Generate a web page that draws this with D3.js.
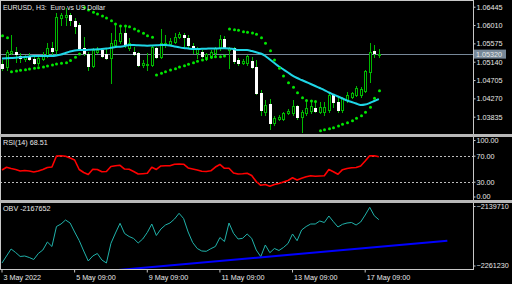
<!DOCTYPE html>
<html>
<head>
<meta charset="utf-8">
<script src="https://cdn.jsdelivr.net/npm/d3@7"></script>
<style>
html, body { margin: 0; padding: 0; background: #000; }
svg { display: block; }
text { font-family: "Liberation Sans", Arial, sans-serif; font-size: 7.2px; fill: #e8e8e8; white-space: pre; }
</style>
</head>
<body>
<svg id="chart" width="512" height="284"></svg>
<script>
// EURUSD H3 bars, 3 May 09:00 .. 17 May
var openP = [1.05085,1.05014,1.05346,1.05370,1.05275,1.05204,1.05251,1.05204,1.05109,1.05204,
	1.05299,1.05465,1.05417,1.06177,1.06201,1.06248,1.06106,1.06011,1.05465,1.05323,
	1.05038,1.05370,1.05417,1.05323,1.05228,1.05536,1.05631,1.05821,1.05465,1.05370,
	1.05346,1.05062,1.05062,1.05062,1.05465,1.05251,1.05536,1.05560,1.05607,1.05726,
	1.05773,1.05702,1.05512,1.05346,1.05370,1.05251,1.05251,1.05346,1.05465,1.05679,
	1.05417,1.05465,1.05180,1.05109,1.05109,1.05156,1.05014,1.04397,1.03946,1.04136,
	1.03685,1.03780,1.03780,1.03923,1.03923,1.04089,1.03828,1.03923,1.03970,1.04041,
	1.03946,1.03946,1.03994,1.04350,1.04184,1.03994,1.04231,1.04302,1.04350,1.04350,
	1.04445,1.04895,1.05394,1.05299];
var highP = [1.05180,1.05417,1.05773,1.05489,1.05346,1.05299,1.05346,1.05275,1.05299,1.05370,
	1.05584,1.05607,1.06296,1.06296,1.06414,1.06296,1.06177,1.06058,1.05726,1.05370,
	1.05465,1.05489,1.05465,1.05465,1.05821,1.06058,1.06011,1.05963,1.05702,1.05489,
	1.05370,1.05180,1.05346,1.05536,1.05489,1.05916,1.05773,1.05702,1.05821,1.05845,
	1.05821,1.05773,1.05584,1.05489,1.05417,1.05346,1.05417,1.05489,1.05773,1.05750,
	1.05489,1.05489,1.05228,1.05204,1.05299,1.05251,1.05180,1.04468,1.04231,1.04255,
	1.03851,1.03875,1.03946,1.04017,1.04231,1.04112,1.03994,1.04231,1.04184,1.04184,
	1.04184,1.04184,1.04397,1.04373,1.04302,1.04302,1.04421,1.04421,1.04563,1.04539,
	1.04943,1.05584,1.05536,1.05441];
var lowP = [1.04943,1.04943,1.05323,1.05133,1.05133,1.05156,1.05180,1.05085,1.05062,1.05180,
	1.05251,1.05299,1.05299,1.06011,1.06011,1.06011,1.05821,1.05417,1.05299,1.04943,
	1.05014,1.05346,1.05251,1.05204,1.04634,1.05489,1.05584,1.05489,1.05417,1.05299,
	1.05038,1.05014,1.04943,1.05038,1.05228,1.05228,1.05489,1.05536,1.05584,1.05702,
	1.05489,1.05489,1.05346,1.05228,1.05251,1.05180,1.05228,1.05299,1.05417,1.05465,
	1.04990,1.05109,1.05062,1.05085,1.05062,1.04990,1.04373,1.03875,1.03875,1.03543,
	1.03638,1.03756,1.03756,1.03899,1.03875,1.03780,1.03472,1.03875,1.03923,1.03946,
	1.03923,1.03875,1.03946,1.04065,1.03946,1.03946,1.04184,1.04278,1.04326,1.04302,
	1.04421,1.04658,1.05251,1.05251];
var closeP = [1.04990,1.05370,1.05394,1.05323,1.05228,1.05251,1.05204,1.05109,1.05228,1.05299,
	1.05465,1.05394,1.06201,1.06248,1.06248,1.06129,1.05987,1.05465,1.05346,1.05038,
	1.05417,1.05417,1.05275,1.05228,1.05584,1.05655,1.05821,1.05536,1.05584,1.05323,
	1.05062,1.05109,1.05085,1.05489,1.05251,1.05584,1.05584,1.05631,1.05726,1.05797,
	1.05726,1.05536,1.05441,1.05441,1.05275,1.05323,1.05370,1.05465,1.05679,1.05489,
	1.05465,1.05156,1.05109,1.05156,1.05275,1.05014,1.04397,1.03994,1.04112,1.03685,
	1.03804,1.03828,1.03923,1.03970,1.04089,1.03828,1.03946,1.04041,1.04089,1.03970,
	1.04065,1.04065,1.04350,1.04184,1.03994,1.04278,1.04350,1.04397,1.04516,1.04492,
	1.04919,1.05370,1.05346,1.05320];

// moving average (cyan line)
var maValues = [1.05216,1.05221,1.05228,1.05235,1.05244,1.05251,1.05263,1.05275,1.05275,1.05275,
	1.05275,1.05275,1.05287,1.05311,1.05346,1.05382,1.05406,1.05417,1.05417,1.05422,
	1.05429,1.05434,1.05441,1.05453,1.05470,1.05489,1.05496,1.05512,1.05536,1.05536,
	1.05529,1.05524,1.05520,1.05524,1.05529,1.05536,1.05536,1.05524,1.05501,1.05482,
	1.05465,1.05453,1.05441,1.05441,1.05446,1.05448,1.05453,1.05453,1.05458,1.05458,
	1.05453,1.05441,1.05417,1.05417,1.05417,1.05394,1.05363,1.05334,1.05275,1.05192,
	1.05109,1.05026,1.04955,1.04884,1.04812,1.04753,1.04706,1.04658,1.04611,1.04563,
	1.04516,1.04468,1.04409,1.04362,1.04314,1.04267,1.04219,1.04184,1.04148,1.04112,
	1.04124,1.04160,1.04207,1.04255];

// parabolic SAR dots
var sarValues = [1.05757,1.05709,1.04903,1.04919,1.04936,1.04950,1.04967,1.04983,1.04997,1.05014,
	1.05038,1.05062,1.05085,1.05102,1.05116,1.05168,1.05244,1.05323,1.06426,1.06367,
	1.06312,1.06272,1.06224,1.06177,1.06113,1.06034,1.05987,1.05987,1.05970,1.05916,
	1.05868,1.05814,1.05757,1.05719,1.04824,1.04865,1.04903,1.04943,1.04974,1.05014,
	1.05045,1.05078,1.05116,1.05149,1.05180,1.05211,1.05244,1.05259,1.05259,1.05275,
	1.05916,1.05899,1.05885,1.05852,1.05838,1.05821,1.05790,1.05709,1.05577,1.05401,
	1.05180,1.04983,1.04801,1.04642,1.04532,1.04404,1.04286,1.04219,1.04207,1.04195,
	1.03502,1.03526,1.03550,1.03571,1.03614,1.03654,1.03692,1.03740,1.03797,1.03856,
	1.03939,1.04058,1.04271,1.04452];

var rsiValues = [48.0,52.2,50.3,48.8,46.5,47.2,46.5,44.9,46.5,48.8,
	51.8,52.6,69.5,70.0,69.1,66.5,63.4,48.8,44.2,41.1,
	49.1,48.8,45.4,45.7,53.4,54.6,55.2,49.5,49.1,45.7,
	41.8,42.3,42.9,52.2,48.8,54.2,54.6,54.6,56.9,57.2,
	56.9,51.1,49.5,48.0,46.0,45.7,46.8,52.6,56.5,50.6,
	50.6,43.4,41.8,42.2,42.9,39.5,30.3,24.5,25.7,22.9,
	25.7,27.2,29.5,31.8,36.0,32.6,35.4,37.5,39.2,38.3,
	38.8,39.2,48.8,45.4,41.4,48.5,50.3,51.4,51.8,54.2,
	61.8,70.0,69.8,68.51];

var obvValues = [-2253324,-2239493,-2225662,-2232577,-2240481,-2239493,-2242457,-2246409,-2234553,-2227638,
	-2211830,-2220722,-2181204,-2176264,-2168361,-2174288,-2192071,-2208867,-2229613,-2249372,
	-2239493,-2234553,-2247397,-2253324,-2214399,-2194047,-2174881,-2195035,-2200963,-2204915,
	-2213806,-2205903,-2193059,-2176264,-2198987,-2186144,-2178240,-2174288,-2166385,-2155122,
	-2165397,-2192071,-2212818,-2224674,-2229613,-2230206,-2225069,-2220722,-2202939,-2210842,
	-2174288,-2194640,-2205903,-2204520,-2196023,-2204520,-2227638,-2240876,-2217758,-2232973,
	-2224674,-2228626,-2222698,-2214794,-2196023,-2209262,-2188120,-2181204,-2176264,-2176264,
	-2170336,-2173300,-2160457,-2171720,-2182192,-2176857,-2174288,-2173300,-2178240,-2172312,
	-2158481,-2143267,-2159864,-2167652];

// trend line drawn in the OBV window (bar index, value)
var trendBars = [21.6, 98.1];
var trendValues = [-2270400, -2209300];

var priceTicks = [1.06445, 1.06010, 1.05575, 1.05140, 1.04705, 1.04270, 1.03835];
var rsiTicks = [100, 70, 30, 0];
var rsiLevels = [70, 30];
var obvTicks = [-2139710, -2261230];
var timeTicks = [0, 16, 32, 48, 64, 80];
var timeLabels = ['3 May 2022', '5 May 09:00', '9 May 09:00', '11 May 09:00', '13 May 09:00', '17 May 09:00'];
var lastPrice = 1.05320;

var W = 512, H = 284;
var axisX = 473;
var panels = {
	main: {top: 1, bottom: 134},
	rsi: {top: 137, bottom: 200},
	obv: {top: 203, bottom: 269}
};

var green = '#00b800', sarGreen = '#00e600';

var svg = d3.select('#chart');
svg.append('rect').attr('width', W).attr('height', H).attr('fill', '#000');

var x = d3.scaleLinear().domain([0, 83]).range([2, 378.8]);
var yMain = d3.scaleLinear().domain([1.03835, 1.06445]).range([116.7, 6.7]);
var yRsi = d3.scaleLinear().domain([30, 70]).range([181.7, 155.7]);
var yObv = d3.scaleLinear().domain([-2261230, -2139710]).range([267, 205.5]);

var bars = d3.range(openP.length).map(function (i) {
	return {i: i, o: openP[i], h: highP[i], l: lowP[i], c: closeP[i]};
});

// clip paths, one per window
var defs = svg.append('defs');
Object.keys(panels).forEach(function (k) {
	defs.append('clipPath').attr('id', 'clip-' + k).append('rect')
		.attr('x', 1).attr('y', panels[k].top)
		.attr('width', axisX - 1).attr('height', panels[k].bottom - panels[k].top);
});

// ---- main window
var gMain = svg.append('g').attr('clip-path', 'url(#clip-main)');

// last price line
gMain.append('line')
	.attr('x1', 0).attr('x2', axisX)
	.attr('y1', Math.round(yMain(lastPrice)) + 0.5).attr('y2', Math.round(yMain(lastPrice)) + 0.5)
	.attr('stroke', '#778899').attr('stroke-width', 1);

// wicks
gMain.selectAll('line.wick').data(bars).enter().append('line')
	.attr('class', 'wick')
	.attr('x1', function (d) { return Math.round(x(d.i)) + 0.5; })
	.attr('x2', function (d) { return Math.round(x(d.i)) + 0.5; })
	.attr('y1', function (d) { return Math.round(yMain(d.h)); })
	.attr('y2', function (d) { return Math.round(yMain(d.l)) + 1; })
	.attr('stroke', green).attr('stroke-width', 1);

// bull bodies: hollow with green outline
gMain.selectAll('rect.bull').data(bars.filter(function (d) { return d.c >= d.o; })).enter().append('rect')
	.attr('class', 'bull')
	.attr('x', function (d) { return Math.round(x(d.i)) - 1 + 0.5; })
	.attr('y', function (d) { return Math.round(yMain(d.c)) + 0.5; })
	.attr('width', 2)
	.attr('height', function (d) { return Math.max(0, Math.round(yMain(d.o)) - Math.round(yMain(d.c))); })
	.attr('fill', '#000').attr('stroke', green).attr('stroke-width', 1);

// bear bodies: white
gMain.selectAll('rect.bear').data(bars.filter(function (d) { return d.c < d.o; })).enter().append('rect')
	.attr('class', 'bear')
	.attr('x', function (d) { return Math.round(x(d.i)) - 1; })
	.attr('y', function (d) { return Math.round(yMain(d.o)); })
	.attr('width', 3)
	.attr('height', function (d) { return Math.max(1, Math.round(yMain(d.c)) - Math.round(yMain(d.o)) + 1); })
	.attr('fill', '#ffffff');

// moving average
var maLine = d3.line()
	.x(function (d, i) { return x(i); })
	.y(function (d) { return yMain(d); })
	.curve(d3.curveMonotoneX);
gMain.append('path')
	.attr('d', maLine(maValues))
	.attr('fill', 'none').attr('stroke', '#1fd6e6').attr('stroke-width', 2);

// parabolic SAR
gMain.selectAll('circle.sar').data(sarValues).enter().append('circle')
	.attr('class', 'sar')
	.attr('cx', function (d, i) { return Math.round(x(i)) + 0.5; })
	.attr('cy', function (d) { return yMain(d); })
	.attr('r', 1.5)
	.attr('fill', sarGreen);

svg.append('text').attr('x', 3).attr('y', 10).style('font-size', '6.9px')
	.text('EURUSD, H3:  Euro vs US Dollar');

// ---- RSI window
var gRsi = svg.append('g').attr('clip-path', 'url(#clip-rsi)');
gRsi.selectAll('line.level').data(rsiLevels).enter().append('line')
	.attr('class', 'level')
	.attr('x1', 0).attr('x2', axisX)
	.attr('y1', function (d) { return Math.round(yRsi(d)) + 0.5; })
	.attr('y2', function (d) { return Math.round(yRsi(d)) + 0.5; })
	.attr('stroke', '#bdbdbd').attr('stroke-width', 1).attr('stroke-dasharray', '2,2');

var rsiLine = d3.line()
	.x(function (d, i) { return x(i); })
	.y(function (d) { return yRsi(d); });
gRsi.append('path')
	.attr('d', rsiLine(rsiValues))
	.attr('fill', 'none').attr('stroke', '#ff0000').attr('stroke-width', 1.6)
	.attr('stroke-linejoin', 'round');

svg.append('text').attr('x', 3).attr('y', 144.5).text('RSI(14) ' + d3.format('.2f')(rsiValues[rsiValues.length - 1]));

// ---- OBV window
var gObv = svg.append('g').attr('clip-path', 'url(#clip-obv)');
var obvLine = d3.line()
	.x(function (d, i) { return x(i); })
	.y(function (d) { return yObv(d); });
gObv.append('path')
	.attr('d', obvLine(obvValues))
	.attr('fill', 'none').attr('stroke', '#20b2aa').attr('stroke-width', 1);

gObv.append('line')
	.attr('x1', x(trendBars[0])).attr('y1', yObv(trendValues[0]))
	.attr('x2', x(trendBars[1])).attr('y2', yObv(trendValues[1]))
	.attr('stroke', '#0000ff').attr('stroke-width', 2);

svg.append('text').attr('x', 3).attr('y', 211).text('OBV ' + obvValues[obvValues.length - 1]);

// ---- frames and splitters
svg.append('rect').attr('x', 0.5).attr('y', 0.5).attr('width', axisX).attr('height', panels.obv.bottom)
	.attr('fill', 'none').attr('stroke', '#c8c8c8').attr('stroke-width', 1);
[panels.main.bottom, panels.rsi.bottom].forEach(function (yy) {
	svg.append('rect').attr('x', 0).attr('y', yy).attr('width', W).attr('height', 3).attr('fill', '#b8b8b8');
});

// ---- axes
function styleAxis(g) {
	g.select('.domain').remove();
	g.selectAll('line').attr('stroke', '#c8c8c8');
	g.selectAll('text').attr('font-family', null).attr('font-size', null).attr('fill', '#e8e8e8');
	g.attr('font-family', null).attr('font-size', null);
}

// keep end labels of a sub-window inside it
function clampTicks(g, top, bottom) {
	g.selectAll('.tick').attr('transform', function () {
		var t = d3.select(this).attr('transform');
		var yy = +t.match(/,\s*([-\d.]+)/)[1];
		yy = Math.max(top + 3.5, Math.min(bottom - 3, yy));
		return 'translate(0,' + yy + ')';
	});
}

var gPriceAxis = svg.append('g').attr('transform', 'translate(' + (axisX + 0.5) + ',0)')
	.call(d3.axisRight(yMain).tickValues(priceTicks).tickFormat(d3.format('.5f')).tickSize(2).tickPadding(1));
styleAxis(gPriceAxis);

var gRsiAxis = svg.append('g').attr('transform', 'translate(' + (axisX + 0.5) + ',0)')
	.call(d3.axisRight(yRsi).tickValues(rsiTicks).tickFormat(d3.format('.2f')).tickSize(2).tickPadding(1));
styleAxis(gRsiAxis);
clampTicks(gRsiAxis, panels.rsi.top, panels.rsi.bottom);

var gObvAxis = svg.append('g').attr('transform', 'translate(' + (axisX + 0.5) + ',0)')
	.call(d3.axisRight(yObv).tickValues(obvTicks).tickFormat(d3.format('d')).tickSize(2).tickPadding(1));
styleAxis(gObvAxis);
clampTicks(gObvAxis, panels.obv.top, panels.obv.bottom);

// last price tag
var tagY = yMain(lastPrice);
svg.append('rect').attr('x', axisX + 1).attr('y', tagY - 4.5).attr('width', 32).attr('height', 9)
	.attr('fill', '#778899');
svg.append('text').attr('x', axisX + 3).attr('y', tagY + 2.6).attr('fill', '#e0e4ea')
	.text(d3.format('.5f')(lastPrice));

var gTimeAxis = svg.append('g').attr('transform', 'translate(0,' + (panels.obv.bottom + 0.5) + ')')
	.call(d3.axisBottom(x).tickValues(timeTicks)
		.tickFormat(function (d, i) { return timeLabels[i]; }).tickSize(3).tickPadding(1));
styleAxis(gTimeAxis);
gTimeAxis.selectAll('.tick line').attr('transform', 'translate(-0.5,0)');
gTimeAxis.selectAll('.tick text').attr('text-anchor', 'start').attr('x', 1).attr('dy', '0.9em');
</script>
</body>
</html>
